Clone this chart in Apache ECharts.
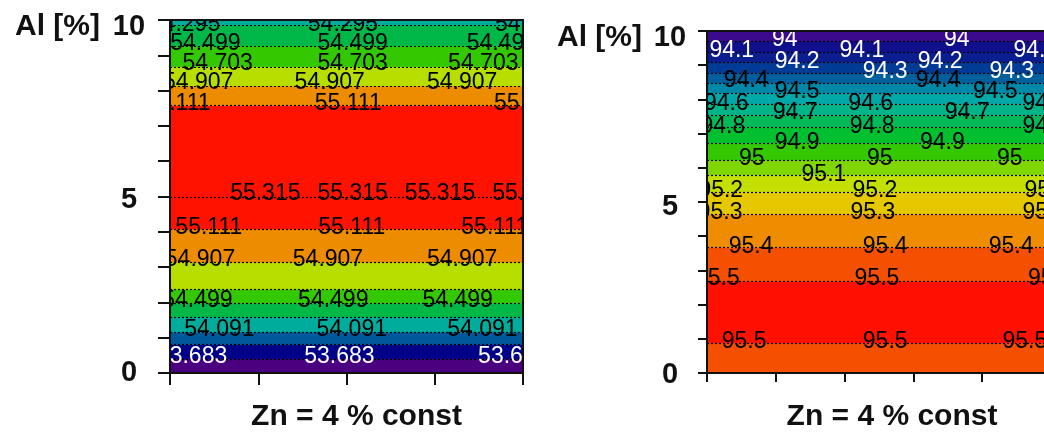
<!DOCTYPE html>
<html>
<head>
<meta charset="utf-8">
<script src="https://cdn.jsdelivr.net/npm/echarts@6/dist/echarts.min.js"></script>
<style>
  html, body { margin: 0; padding: 0; background: #fff; }
  #chart { width: 1044px; height: 432px; }
</style>
</head>
<body>
<div id="chart"></div>
<script>
// Zn = 4 % const, so every contour is a flat line in Al [%]

// left map: contour lines [Al, level]
const leftLines = [
  [9.86, 54.295], [9.26, 54.499], [8.68, 54.703], [8.14, 54.907], [7.58, 55.111],
  [5.0, 55.315],
  [4.08, 55.111], [3.14, 54.907], [2.38, 54.703], [1.98, 54.499], [1.59, 54.295],
  [1.16, 54.091], [0.81, 53.887], [0.41, 53.683]
];
// left map: filled bands [Al from, Al to, level class]
const leftBands = [
  [0, 0.41, 0], [0.41, 0.81, 1], [0.81, 1.16, 2], [1.16, 1.59, 3], [1.59, 1.98, 4],
  [1.98, 2.38, 5], [2.38, 3.14, 6], [3.14, 4.08, 7], [4.08, 7.58, 8],
  [7.58, 8.14, 7], [8.14, 8.68, 6], [8.68, 9.26, 5], [9.26, 9.86, 4], [9.86, 10, 3]
];
// left map: contour labels [x, Al, value]
const leftLabels = [
  [0.17, 9.87, 54.295], [1.96, 9.87, 54.295], [4.08, 9.87, 54.295],
  [0.40, 9.32, 54.499], [2.07, 9.32, 54.499], [3.76, 9.32, 54.499],
  [0.54, 8.75, 54.703], [2.07, 8.75, 54.703], [3.55, 8.75, 54.703],
  [0.32, 8.22, 54.907], [1.81, 8.22, 54.907], [3.31, 8.22, 54.907],
  [0.08, 7.62, 55.111], [2.02, 7.62, 55.111], [4.05, 7.62, 55.111],
  [1.08, 5.07, 55.315], [2.07, 5.07, 55.315], [3.06, 5.07, 55.315], [4.05, 5.07, 55.315],
  [0.44, 4.11, 55.111], [2.06, 4.11, 55.111], [3.68, 4.11, 55.111],
  [0.34, 3.20, 54.907], [1.79, 3.20, 54.907], [3.31, 3.20, 54.907],
  [0.31, 2.04, 54.499], [1.85, 2.04, 54.499], [3.26, 2.04, 54.499],
  [0.56, 1.22, 54.091], [2.06, 1.22, 54.091], [3.54, 1.22, 54.091],
  [0.25, 0.45, 53.683], [1.92, 0.45, 53.683], [3.89, 0.45, 53.683]
];

// right map: contour lines [Al, level]
const rightLines = [
  [9.71, 94.0], [9.39, 94.1], [9.09, 94.2], [8.77, 94.3], [8.48, 94.4], [8.19, 94.5],
  [7.87, 94.6], [7.54, 94.7], [7.19, 94.8], [6.73, 94.9], [6.23, 95.0], [5.79, 95.1],
  [5.29, 95.2], [4.65, 95.3], [3.68, 95.4], [2.69, 95.5], [0.88, 95.5]
];
// right map: filled bands [Al from, Al to, level class]
const rightBands = [
  [0, 0.88, 16], [0.88, 2.69, 17], [2.69, 3.68, 16], [3.68, 4.65, 15], [4.65, 5.29, 14],
  [5.29, 5.79, 13], [5.79, 6.23, 12], [6.23, 6.73, 11], [6.73, 7.19, 10], [7.19, 7.54, 9],
  [7.54, 7.87, 8], [7.87, 8.19, 7], [8.19, 8.48, 6], [8.48, 8.77, 5], [8.77, 9.09, 4],
  [9.09, 9.39, 3], [9.39, 9.71, 2], [9.71, 10, 1]
];
// right map: contour labels [x, Al, value]
const rightLabels = [
  [0.07, 10.15, 93.9], [2.62, 10.15, 93.9], [5.06, 10.15, 93.9],
  [1.13, 9.74, 94], [3.63, 9.74, 94],
  [0.36, 9.42, 94.1], [2.25, 9.42, 94.1], [4.78, 9.42, 94.1],
  [1.31, 9.09, 94.2], [3.39, 9.09, 94.2],
  [2.59, 8.80, 94.3], [4.43, 8.80, 94.3],
  [0.57, 8.54, 94.4], [3.36, 8.54, 94.4],
  [1.31, 8.22, 94.5], [4.19, 8.22, 94.5],
  [0.28, 7.89, 94.6], [2.38, 7.89, 94.6], [4.91, 7.89, 94.6],
  [1.28, 7.60, 94.7], [3.78, 7.60, 94.7],
  [0.23, 7.19, 94.8], [2.40, 7.19, 94.8], [4.91, 7.19, 94.8],
  [1.31, 6.73, 94.9], [3.42, 6.73, 94.9],
  [0.65, 6.26, 95], [2.51, 6.26, 95], [4.40, 6.26, 95],
  [1.70, 5.79, 95.1],
  [0.20, 5.32, 95.2], [2.44, 5.32, 95.2], [4.94, 5.32, 95.2],
  [0.19, 4.68, 95.3], [2.41, 4.68, 95.3], [4.91, 4.68, 95.3],
  [0.64, 3.68, 95.4], [2.59, 3.68, 95.4], [4.42, 3.68, 95.4],
  [0.15, 2.75, 95.5], [2.47, 2.75, 95.5], [4.99, 2.75, 95.5],
  [0.54, 0.91, 95.5], [2.59, 0.91, 95.5], [4.62, 0.91, 95.5]
];

const xName = 'Zn = 4 % const';
const yName = 'Al [%]';

const leftPalette = ['#4b0080', '#000088', '#00589c', '#00ac9c', '#00b848',
  '#33c800', '#b8de00', '#ee8c00', '#ff1200'];
const rightPalette = ['#4b0080', '#3c0a8c', '#10108c', '#0a1e90', '#003c96', '#00609e',
  '#0088a8', '#00a8a8', '#00b48a', '#00ba5a', '#00c030', '#33c800', '#80d600',
  '#c4e000', '#e6c800', '#f08c00', '#f45000', '#ff1000'];

const ink = '#111';
const boldFont = '"Liberation Sans", Arial, sans-serif';

function panel(i, g, xMax, tickLen, palette, whiteUpTo, lines, bands, labels) {
  const grid = {
    left: g.left, top: g.top, width: g.width, height: g.height,
    show: true, z: 5, backgroundColor: 'transparent',
    borderColor: ink, borderWidth: 2, outerBoundsMode: 'none'
  };
  const xAxis = {
    gridIndex: i, type: 'value', min: 0, max: xMax, interval: 1, z: 6,
    name: xName, nameLocation: 'middle', nameGap: 44, nameMoveOverlap: false,
    nameTextStyle: {
      fontFamily: boldFont, fontWeight: 'bold', fontSize: 30, color: ink,
      verticalAlign: 'middle', padding: [0, 0, 0, g.nameShift]
    },
    axisLine: { show: true, lineStyle: { color: ink, width: 2 } },
    axisTick: { show: true, inside: false, length: tickLen, lineStyle: { color: ink, width: 2 } },
    axisLabel: { show: false },
    splitLine: { show: false }
  };
  const rich = {};
  ['t', 'm', 'b'].forEach((k, j) => {
    rich[k] = { fontFamily: boldFont, fontWeight: 'bold', fontSize: 29, color: ink,
      padding: [g.labelPad[j], 0, 0, 0] };
  });
  const yAxis = {
    gridIndex: i, type: 'value', min: 0, max: 10, interval: 1, z: 6,
    name: yName, nameLocation: 'end', nameGap: -g.namePad, nameMoveOverlap: false,
    nameTextStyle: {
      fontFamily: boldFont, fontWeight: 'bold', fontSize: 30, color: ink,
      align: 'right', verticalAlign: 'middle', padding: [0, g.nameRight, 0, 0]
    },
    axisLine: { show: true, lineStyle: { color: ink, width: 2 } },
    axisTick: { show: true, inside: false, length: tickLen, lineStyle: { color: ink, width: 2 } },
    axisLabel: {
      show: true, margin: g.labelMargin, align: 'center', verticalAlign: 'middle',
      formatter: v => (v === 10 ? '{t|10}' : v === 5 ? '{m|5}' : v === 0 ? '{b|0}' : ''),
      rich
    },
    splitLine: { show: false }
  };

  const bandSeries = {
    type: 'custom', xAxisIndex: i, yAxisIndex: i, clip: true, silent: true, z: 1,
    data: bands,
    renderItem(params, api) {
      const cs = params.coordSys;
      const yTop = api.coord([0, api.value(1)])[1];
      const yBot = api.coord([0, api.value(0)])[1];
      return {
        type: 'rect',
        shape: { x: cs.x, y: yTop - 0.5, width: cs.width, height: yBot - yTop + 1 },
        style: { fill: palette[api.value(2)] }
      };
    }
  };
  const lineSeries = {
    type: 'custom', xAxisIndex: i, yAxisIndex: i, clip: true, silent: true, z: 2,
    data: lines,
    renderItem(params, api) {
      const cs = params.coordSys;
      const y = Math.round(api.coord([0, api.value(0)])[1]) + 0.5;
      return {
        type: 'line',
        shape: { x1: cs.x, y1: y, x2: cs.x + cs.width, y2: y },
        style: { stroke: '#000', lineWidth: 1.2, lineDash: [2, 2], opacity: 1 }
      };
    }
  };
  const labelSeries = {
    type: 'custom', xAxisIndex: i, yAxisIndex: i, clip: true, silent: true, z: 3,
    data: labels,
    renderItem(params, api) {
      const p = api.coord([api.value(0), api.value(1)]);
      const v = api.value(2);
      return {
        type: 'text', x: p[0], y: p[1],
        style: {
          text: String(v), fill: v <= whiteUpTo ? '#fff' : '#000',
          font: '23px "Liberation Sans", Arial, sans-serif', align: 'center', verticalAlign: 'middle'
        }
      };
    }
  };
  return { grid, xAxis, yAxis, series: [bandSeries, lineSeries, labelSeries] };
}

const left = panel(0,
  { left: 170, top: 20, width: 353, height: 353, nameShift: 20, namePad: 7, nameRight: 70,
    labelMargin: 41, labelPad: [14, 6, 0] },
  4, 12, leftPalette, 53.7, leftLines, leftBands, leftLabels);
const right = panel(1,
  { left: 707, top: 31, width: 344, height: 342, nameShift: 26, namePad: 7, nameRight: 65,
    labelMargin: 37, labelPad: [14, 10, 4] },
  5, 9, rightPalette, 94.3, rightLines, rightBands, rightLabels);

const chart = echarts.init(document.getElementById('chart'));
chart.setOption({
  animation: false,
  backgroundColor: '#fff',
  grid: [left.grid, right.grid],
  xAxis: [left.xAxis, right.xAxis],
  yAxis: [left.yAxis, right.yAxis],
  series: left.series.concat(right.series)
});
</script>
</body>
</html>
